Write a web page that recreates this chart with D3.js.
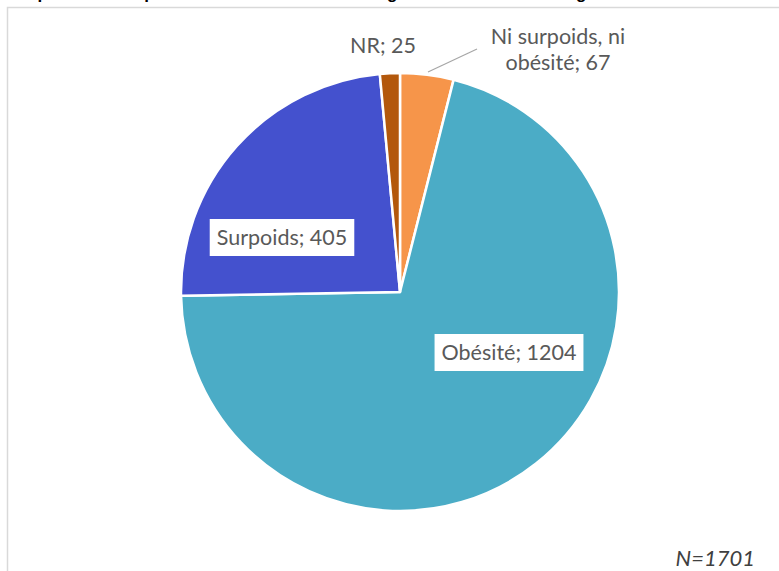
<!DOCTYPE html>
<html>
<head>
<meta charset="utf-8">
<script src="https://cdn.jsdelivr.net/npm/d3@7"></script>
<style>
  html, body { margin: 0; padding: 0; background: #ffffff; }
  svg { display: block; }
</style>
</head>
<body>
<script>
// ---- data ----
const categories = ["Ni surpoids, ni obésité", "Obésité", "Surpoids", "NR"];
const values = [67, 1204, 405, 25];
const colors = ["#F6954A", "#4BACC6", "#4451CE", "#B3580C"];
const totalLabel = "N=1701";
const titleText = "Répartition des patients au moment de la catégorisation selon la catégorie d'IMC à l'inclusion";

// ---- layout ----
const W = 779, H = 571;
const cx = 400, cy = 292, R = 219;
const labelFont = "Lato, 'Open Sans', sans-serif";
const labelSize = 21.5;

const svg = d3.select("body").append("svg")
  .attr("width", W).attr("height", H);

// cut-off title at the very top
svg.append("text")
  .attr("x", 393).attr("y", -1)
  .attr("text-anchor", "middle")
  .attr("font-family", "Arial, 'Liberation Sans', sans-serif")
  .attr("font-weight", "bold")
  .attr("font-size", 17)
  .attr("fill", "#000")
  .text(titleText);

// chart area border
svg.append("rect")
  .attr("x", 7.5).attr("y", 7.5)
  .attr("width", W + 20).attr("height", H + 20)
  .attr("fill", "none")
  .attr("stroke", "#d9d9d9")
  .attr("stroke-width", 1.5);

const data = categories.map((c, i) => ({ cat: c, value: values[i], color: colors[i] }));

const pie = d3.pie().value(d => d.value).sort(null);
const arcs = pie(data);
const arc = d3.arc().innerRadius(0).outerRadius(R);

const g = svg.append("g").attr("transform", `translate(${cx},${cy})`);

g.selectAll("path.slice")
  .data(arcs)
  .enter().append("path")
  .attr("class", "slice")
  .attr("d", arc)
  .attr("fill", d => d.data.color)
  .attr("stroke", "#ffffff")
  .attr("stroke-width", 2.5)
  .attr("stroke-linejoin", "round");

// label placement (layout, not data)
const labelLayout = [
  { lines: ["Ni surpoids, ni", "obésité; 67"], x: 558, y: 44, box: false, leader: [[428, 72], [477, 49]] },
  { lines: ["Obésité; 1204"], x: 509, y: 360, box: true },
  { lines: ["Surpoids; 405"], x: 282, y: 245, box: true },
  { lines: ["NR; 25"], x: 383, y: 53, box: false }
];

labelLayout.forEach((L, i) => {
  if (L.leader) {
    svg.append("line")
      .attr("x1", L.leader[0][0]).attr("y1", L.leader[0][1])
      .attr("x2", L.leader[1][0]).attr("y2", L.leader[1][1])
      .attr("stroke", "#a6a6a6").attr("stroke-width", 1.2);
  }
  const lg = svg.append("g");
  const t = lg.append("text")
    .attr("font-family", labelFont)
    .attr("font-size", labelSize)
    .attr("fill", "#595959")
    .attr("text-anchor", "middle");
  L.lines.forEach((ln, k) => {
    t.append("tspan").attr("x", L.x).attr("y", L.y + k * 26).text(ln);
  });
  if (L.box) {
    const bb = t.node().getBBox();
    lg.insert("rect", "text")
      .attr("x", bb.x - 7).attr("y", L.y - 26)
      .attr("width", bb.width + 14).attr("height", 37)
      .attr("fill", "#ffffff");
  }
});

// N annotation
svg.append("text")
  .attr("x", 755).attr("y", 566)
  .attr("text-anchor", "end")
  .attr("font-family", labelFont)
  .attr("font-style", "italic")
  .attr("font-size", 22)
  .attr("fill", "#404040")
  .text(totalLabel);
</script>
</body>
</html>
